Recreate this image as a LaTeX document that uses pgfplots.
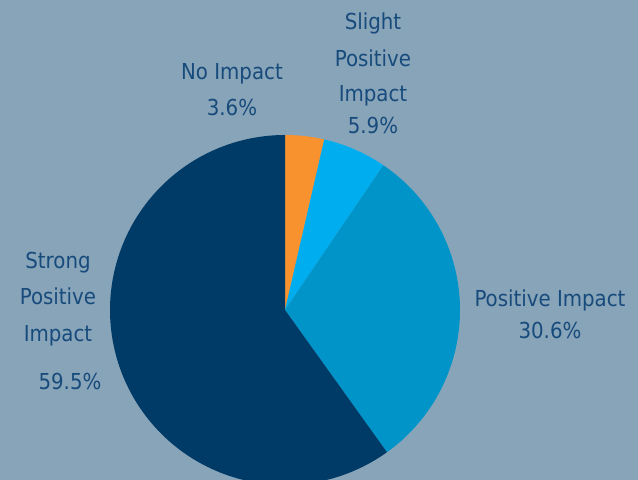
\documentclass[border=0pt]{standalone}
\usepackage{pgfplots}
\pgfplotsset{compat=1.18}
\usepackage{fontspec}
\setmainfont{DejaVu Sans Condensed}
\definecolor{bgc}{HTML}{88A4B9}
\definecolor{txt}{HTML}{174B7C}
\definecolor{cnavy}{HTML}{003B68}
\definecolor{corange}{HTML}{F7922F}
\definecolor{clight}{HTML}{00AEEF}
\definecolor{cmid}{HTML}{0094C9}
\tikzset{lbl/.style={text=txt, font=\fontsize{22bp}{26bp}\selectfont, anchor=base, inner sep=0pt}}
\begin{document}
\begin{tikzpicture}
\begin{axis}[
  scale only axis, width=638bp, height=480bp,
  xmin=-285, xmax=353, ymin=-170, ymax=310,
  axis lines=none, ticks=none,
  axis background/.style={fill=bgc},
  clip=true,
]
% values: No Impact 3.6, Slight Positive 5.9, Positive 30.6, Strong Positive 59.5 (percent); clockwise from top
\addplot[data cs=polar, draw=none, fill=corange, domain=77.04:90, samples=20] ({x},{175}) -- (axis cs:0,0) -- cycle;
\addplot[data cs=polar, draw=none, fill=clight, domain=55.8:77.04, samples=25] ({x},{175}) -- (axis cs:0,0) -- cycle;
\addplot[data cs=polar, draw=none, fill=cmid, domain=-54.36:55.8, samples=80] ({x},{175}) -- (axis cs:0,0) -- cycle;
\addplot[data cs=polar, draw=none, fill=cnavy, domain=-270:-54.36, samples=140] ({x},{175}) -- (axis cs:0,0) -- cycle;
\node[lbl] at (axis cs:-53,230) {No Impact};
\node[lbl] at (axis cs:-53,194) {3.6\%};
\node[lbl] at (axis cs:88,280) {Slight};
\node[lbl] at (axis cs:88,243) {Positive};
\node[lbl] at (axis cs:88,208) {Impact};
\node[lbl] at (axis cs:88,176) {5.9\%};
\node[lbl] at (axis cs:265,3) {Positive Impact};
\node[lbl] at (axis cs:265,-29) {30.6\%};
\node[lbl] at (axis cs:-227,41) {Strong};
\node[lbl] at (axis cs:-227,5) {Positive};
\node[lbl] at (axis cs:-227,-32) {Impact};
\node[lbl] at (axis cs:-215,-80) {59.5\%};
\end{axis}
\end{tikzpicture}
\end{document}
